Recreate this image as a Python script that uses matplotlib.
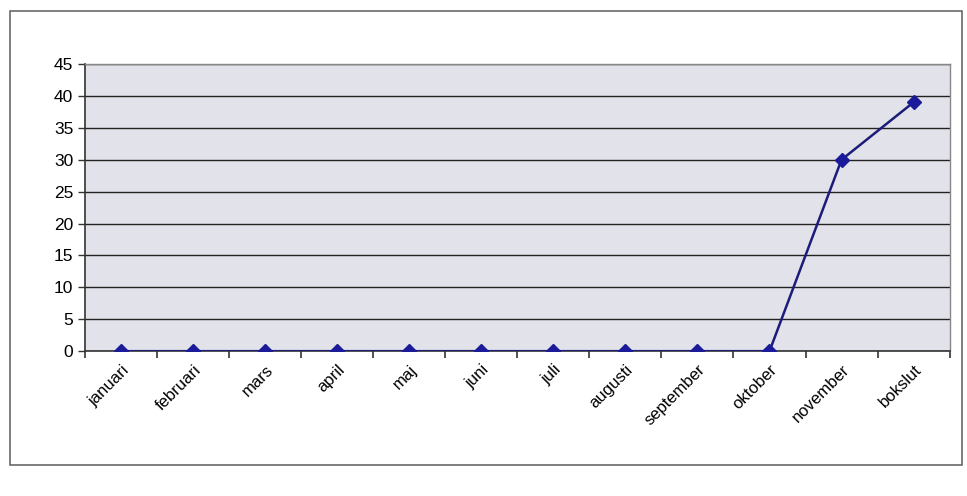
import numpy as np
import matplotlib.pyplot as plt
import matplotlib.patches as patches

plt.rcParams['font.family'] = ['Liberation Sans', 'DejaVu Sans']

manader = ['januari', 'februari', 'mars', 'april', 'maj', 'juni', 'juli',
           'augusti', 'september', 'oktober', 'november', 'bokslut']
varden = [0, 0, 0, 0, 0, 0, 0, 0, 0, 0, 30, 39]
y_ticks = [0, 5, 10, 15, 20, 25, 30, 35, 40, 45]

fig = plt.figure(figsize=(9.67, 4.96), dpi=100)
fig.patch.set_facecolor('white')

# yttre ram runt diagrammet
ram = patches.Rectangle((0.010, 0.062), 0.985, 0.915, transform=fig.transFigure,
                        fill=False, edgecolor='#6a6a6a', linewidth=1.2)
fig.add_artist(ram)

ax = fig.add_axes([0.088, 0.292, 0.894, 0.579])
ax.set_facecolor('#e2e2ea')

x = np.arange(len(manader))
ax.plot(x, varden, color='#1c1c7a', linewidth=1.8, marker='D',
        markersize=7, markerfacecolor='#1a1a9a', markeredgecolor='#1a1a9a', zorder=3)

ax.set_xlim(-0.5, len(manader) - 0.5)
ax.set_ylim(0, 45)
ax.set_yticks(y_ticks)
ax.set_yticklabels([str(v) for v in y_ticks], fontsize=12.5)
ax.yaxis.grid(True, color='#222222', linewidth=1.0)
ax.set_axisbelow(True)

ax.set_xticks(x)
ax.set_xticklabels(manader, rotation=45, ha='right', rotation_mode='anchor', fontsize=12)
ax.tick_params(axis='x', length=0, pad=8)
ax.set_xticks(np.arange(-0.5, len(manader) + 0.5, 1), minor=True)
ax.tick_params(axis='x', which='minor', length=5, width=1.2, color='#333333', direction='out')
ax.tick_params(axis='y', length=5, width=1.0, color='#333333', direction='out')

for side in ['left', 'bottom']:
    ax.spines[side].set_color('#333333')
    ax.spines[side].set_linewidth(1.2)
for side in ['top', 'right']:
    ax.spines[side].set_color('#888888')
    ax.spines[side].set_linewidth(1.0)

fig.savefig('out.png', dpi=100)
